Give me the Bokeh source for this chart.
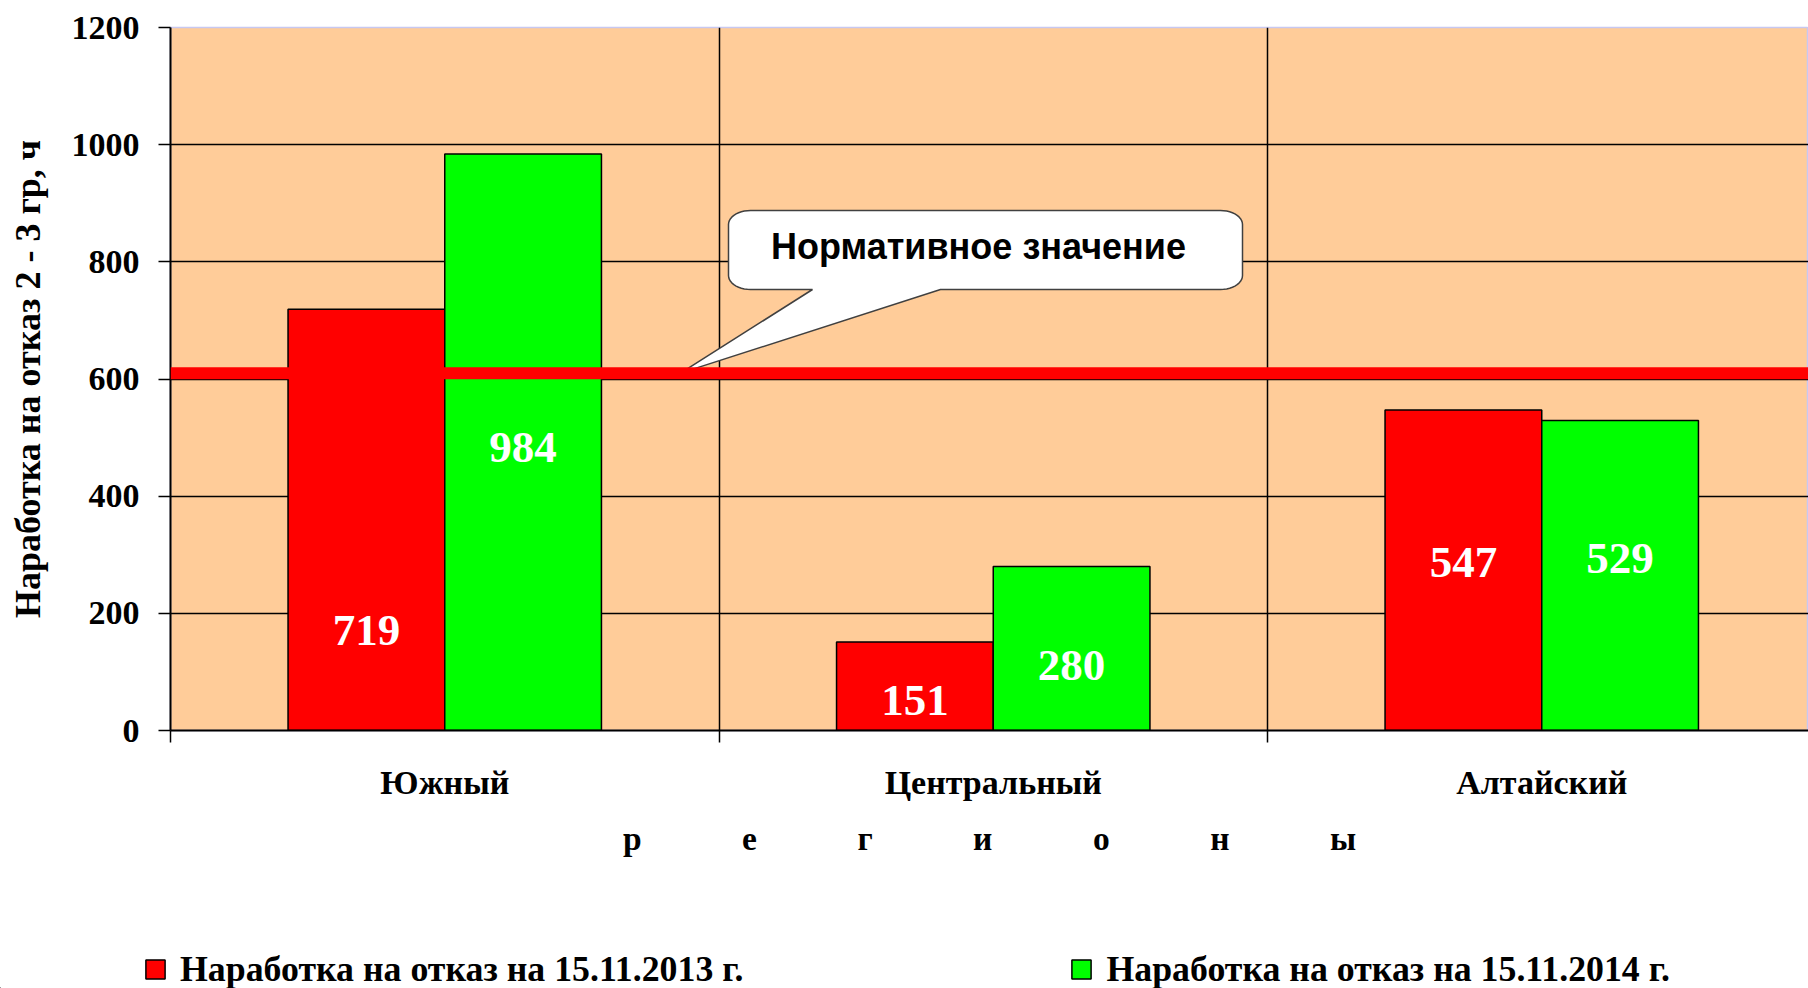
import numpy as np
from bokeh.plotting import figure
from bokeh.layouts import column
from bokeh.models import (Range1d, FixedTicker, Span, Label, LabelSet, Legend,
                          LegendItem, ColumnDataSource)
from bokeh.transform import dodge
from bokeh.core.properties import value
from bokeh.embed import file_html
from bokeh.resources import INLINE

# ---------------- data ----------------
categories = ["Южный", "Центральный", "Алтайский"]
series_names = ["Наработка на отказ на 15.11.2013 г.",
                "Наработка на отказ на 15.11.2014 г."]
series_colors = ["#FF0000", "#00FF00"]
values_2013 = [719, 151, 547]
values_2014 = [984, 280, 529]
norm_value = 610
norm_label = "Нормативное значение"
y_ticks = [0, 200, 400, 600, 800, 1000, 1200]
x_title_letters = "регионы"
y_title = "Наработка на отказ 2 - 3 гр, ч"

# data-label placement (placed by hand in the original chart, data units)
label_y_2013 = [171, 51, 287]
label_y_2014 = [483, 111, 293]

# ---------------- layout constants ----------------
W = 1808
H_MAIN, H_LEG = 930, 58
BORDER_L, BORDER_T, BORDER_B = 170, 27, 200
FRAME_W = W - BORDER_L
FRAME_H = H_MAIN - BORDER_T - BORDER_B
CAT_PX = 548.5
X_END = FRAME_W / CAT_PX
PX_Y = FRAME_H / 1200.0
BAR_W = 0.2857
SERIF = "Liberation Serif"
SANS = "Liberation Sans"
FS = "34px"

x_centers = np.arange(len(categories)) + 0.5
src = ColumnDataSource(dict(
    x=x_centers, v13=values_2013, v14=values_2014,
    t13=[str(v) for v in values_2013], t14=[str(v) for v in values_2014],
    ly13=label_y_2013, ly14=label_y_2014,
))

p = figure(width=W, height=H_MAIN, x_range=Range1d(0, X_END), y_range=Range1d(0, 1200),
           output_backend="svg", toolbar_location=None,
           min_border_left=BORDER_L, min_border_right=0,
           min_border_top=BORDER_T, min_border_bottom=BORDER_B)
p.frame_align = False
p.background_fill_color = "#FFCC99"
p.border_fill_color = "white"
p.outline_line_color = "#C8C8F0"
p.outline_line_width = 1.5

# grids
p.ygrid.ticker = FixedTicker(ticks=y_ticks[1:-1])
p.ygrid.grid_line_color = "black"
p.ygrid.grid_line_width = 1.5
p.xgrid.ticker = FixedTicker(ticks=list(range(1, len(categories))))
p.xgrid.grid_line_color = "black"
p.xgrid.grid_line_width = 1.5

# bars
p.vbar(x=dodge("x", -BAR_W / 2), top="v13", width=BAR_W, source=src,
       fill_color=series_colors[0], line_color="black", line_width=1.5)
p.vbar(x=dodge("x", BAR_W / 2), top="v14", width=BAR_W, source=src,
       fill_color=series_colors[1], line_color="black", line_width=1.5)

# data labels
for xf, yf, tf in ((-BAR_W / 2, "ly13", "t13"), (BAR_W / 2, "ly14", "t14")):
    p.add_layout(LabelSet(x=dodge("x", xf), y=yf, text=tf, source=src,
                          text_align="center", text_baseline="middle",
                          text_color="white", text_font=value(SERIF),
                          text_font_style="bold", text_font_size="45px"))

# normative line
p.add_layout(Span(location=norm_value, dimension="width", line_color="#FF0000",
                  line_width=12))

# callout (geometry in page pixels, converted to data units)
def to_data(xw, yw):
    return (xw - BORDER_L) / CAT_PX, (BORDER_T + FRAME_H - yw) / PX_Y

L, R, T, B = 728, 1242, 210, 289
rx, ry = 22, 14
tail_l, tail_r, tip_xw = 812, 940, 680
pts = [(tail_r, B)]
def arc(cx, cy, a0, a1):
    for t in np.linspace(np.radians(a0), np.radians(a1), 12):
        pts.append((cx + rx * np.cos(t), cy + ry * np.sin(t)))
arc(R - rx, B - ry, 90, 0)
arc(R - rx, T + ry, 0, -90)
arc(L + rx, T + ry, -90, -180)
arc(L + rx, B - ry, 180, 90)
pts.append((tail_l, B))
xs, ys = zip(*[to_data(a, b) for a, b in pts])
xs = list(xs) + [to_data(tip_xw, 0)[0]]
ys = list(ys) + [norm_value]
p.patch(xs, ys, fill_color="white", line_color="#404040", line_width=1.5)
cx, cy = to_data((L + R) / 2 - 7, 246)
p.add_layout(Label(x=cx, y=cy, text=norm_label, text_align="center",
                   text_baseline="middle", text_font=SANS, text_font_style="bold",
                   text_font_size="36px", text_color="black"))

# axes
yax = p.yaxis[0]
yax.ticker = FixedTicker(ticks=y_ticks)
yax.axis_line_width = 2
yax.major_tick_out = 12
yax.major_tick_in = 0
yax.major_tick_line_width = 1.5
yax.minor_tick_line_color = None
yax.major_label_standoff = 19
yax.major_label_text_font = SERIF
yax.major_label_text_font_style = "bold"
yax.major_label_text_font_size = FS
yax.major_label_text_color = "black"
yax.axis_label = y_title
yax.axis_label_text_font = SERIF
yax.axis_label_text_font_style = "bold"
yax.axis_label_text_font_size = "36px"
yax.axis_label_text_color = "black"
yax.axis_label_standoff = 21

xax = p.xaxis[0]
xax.ticker = FixedTicker(ticks=list(x_centers),
                         minor_ticks=list(range(len(categories) + 1)))
xax.major_label_overrides = {float(c): n for c, n in zip(x_centers, categories)}
xax.axis_line_width = 2
xax.major_tick_out = 0
xax.major_tick_in = 0
xax.minor_tick_out = 12
xax.minor_tick_in = 0
xax.minor_tick_line_width = 1.5
xax.major_label_standoff = 21
xax.major_label_text_font = SERIF
xax.major_label_text_font_style = "bold"
xax.major_label_text_font_size = FS
xax.major_label_text_color = "black"
xax.axis_label = ("\u00a0" * 12).join(list(x_title_letters))
xax.axis_label_text_font = SERIF
xax.axis_label_text_font_style = "bold"
xax.axis_label_text_font_size = "33.5px"
xax.axis_label_text_color = "black"
xax.axis_label_standoff = 16

# legend strip under the chart (legend proxies use the same data, kept far out of view)
pl = figure(width=W, height=H_LEG, x_range=Range1d(100, 101), y_range=Range1d(5000, 6000),
            output_backend="svg", toolbar_location=None,
            x_axis_location=None, y_axis_location=None,
            min_border_left=0, min_border_right=0, min_border_top=0, min_border_bottom=0)
pl.frame_align = False
pl.outline_line_color = None
pl.grid.visible = False
pl.background_fill_color = "white"
proxies = [pl.vbar(x="x", top=f, width=BAR_W, source=src, fill_color=c,
                   line_color="black", line_width=1.5)
           for f, c in zip(("v13", "v14"), series_colors)]
legend = Legend(items=[LegendItem(label=n, renderers=[r]) for n, r in zip(series_names, proxies)],
                location=(143, -2), orientation="horizontal",
                glyph_width=24, glyph_height=24, label_standoff=13, spacing=326,
                padding=0, margin=0, border_line_alpha=0, background_fill_alpha=0,
                label_text_font=SERIF, label_text_font_style="bold",
                label_text_font_size="35.8px", label_text_color="black")
pl.add_layout(legend)

layout = column(p, pl, spacing=0)
open("out.html", "w").write(file_html(layout, INLINE))
